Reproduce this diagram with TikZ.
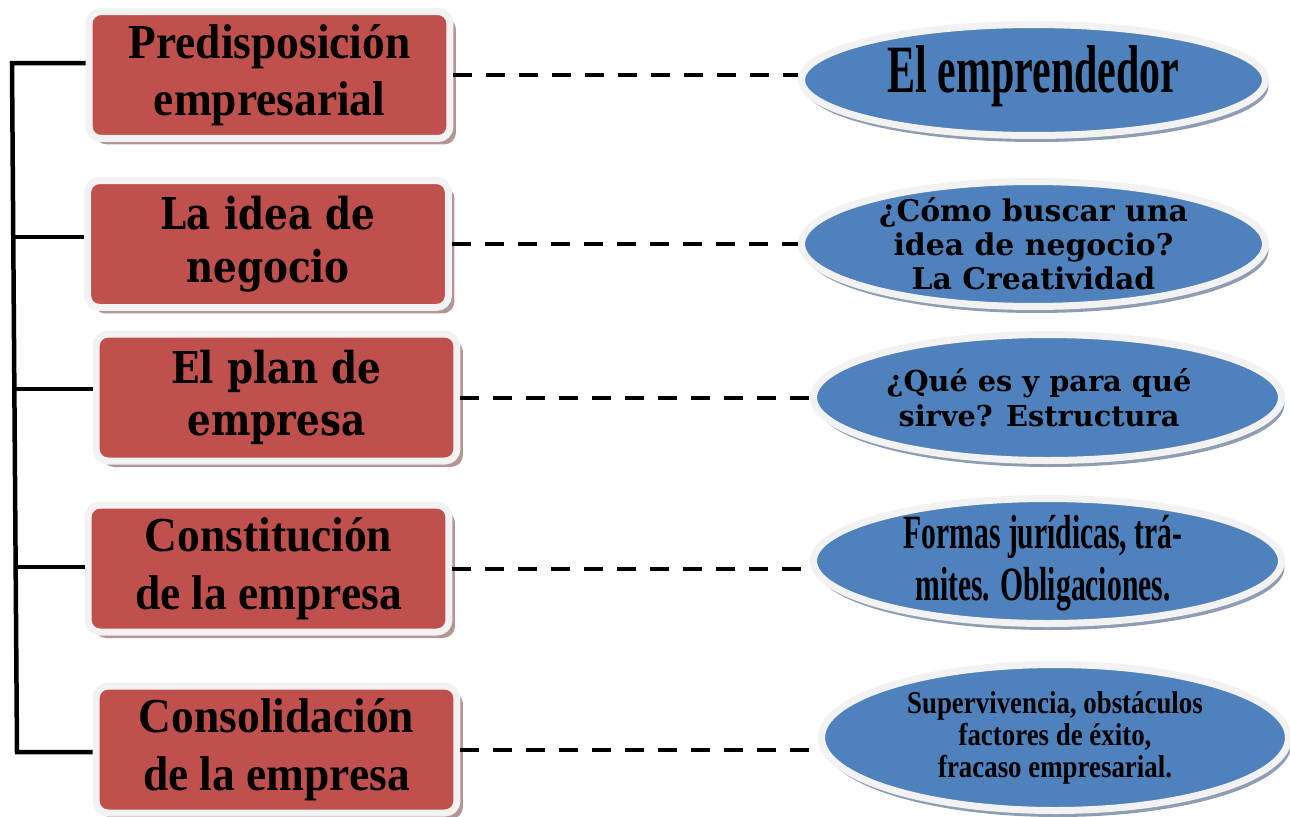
\documentclass[tikz,border=0pt]{standalone}
\usepackage{fontspec}
\setmainfont{Liberation Serif}
\newfontfamily\bookfont{DejaVu Serif}
\newfontfamily\bookcond[FakeStretch=0.85]{DejaVu Serif}
\newfontfamily\timescond[FakeStretch=0.62]{Liberation Serif}
\newfontfamily\timesnarrow[FakeStretch=0.85]{Liberation Serif}
\newfontfamily\timesbox[FakeStretch=0.93]{Liberation Serif}
\usetikzlibrary{shapes.geometric,shadows}

\definecolor{boxred}{HTML}{C0504D}
\definecolor{ovalblue}{HTML}{4F81BD}
\definecolor{rim}{HTML}{F2F2F2}
\definecolor{redshade}{HTML}{B39595}
\definecolor{blueshade}{HTML}{8F9DB3}

\begin{document}
\begin{tikzpicture}[
        x=0.02cm, y=-0.02cm,
        topic/.style={rectangle, rounded corners=0.24cm, fill=boxred, draw=rim, line width=0.14cm, minimum width=7.22cm, minimum height=2.54cm, inner sep=0pt, align=center, drop shadow={shadow xshift=0.12cm, shadow yshift=-0.12cm, fill=redshade, opacity=1}},
        oval/.style={ellipse, fill=ovalblue, draw=rim, line width=0.14cm, inner sep=0pt, drop shadow={shadow xshift=0.06cm, shadow yshift=-0.13cm, fill=blueshade, opacity=1}},
        ovaltext/.style={align=center, inner sep=0pt},
        trunk/.style={line width=0.09cm, line join=miter},
        link/.style={line width=0.08cm, dash pattern=on 0.38cm off 0.28cm}
    ]
        \useasboundingbox (0,0) rectangle (1290,816);

        % Topics (left column)
        \node[topic, font=\timesbox\bfseries\fontsize{27.8}{32.3}\selectfont] (b1) at (269.5,75) {Predisposición\\empresarial};
        \node[topic, font=\bookcond\bfseries\fontsize{25}{30}\selectfont] (b2) at (268,244) {La idea de\\negocio};
        \node[topic, font=\bookcond\bfseries\fontsize{25}{30}\selectfont] (b3) at (276.5,397.5) {El plan de\\empresa};
        \node[topic, font=\timesbox\bfseries\fontsize{27.8}{32.8}\selectfont] (b4) at (268.5,568.5) {Constitución\\de la empresa};
        \node[topic, font=\timesbox\bfseries\fontsize{27.8}{32.8}\selectfont] (b5) at (276.5,749.5) {Consolidación\\de la empresa};

        % Contents (right column)
        \node[oval, minimum width=9.28cm, minimum height=2.22cm] (e1) at (1033.5,80) {};
        \node[oval, minimum width=9.28cm, minimum height=2.5cm] (e2) at (1033.5,244) {};
        \node[oval, minimum width=9.36cm, minimum height=2.52cm] (e3) at (1047.5,397.5) {};
        \node[oval, minimum width=9.36cm, minimum height=2.5cm] (e4) at (1047.5,561) {};
        \node[oval, minimum width=9.34cm, minimum height=2.92cm] (e5) at (1055,737.5) {};

        \node[ovaltext, font=\timescond\bfseries\fontsize{38.5}{40}\selectfont] (e1t) at (1033.5,76) {El emprendedor};
        \node[ovaltext, font=\bookfont\bfseries\fontsize{17}{19.3}\selectfont] (e2t) at (e2) {¿Cómo buscar una\\idea de negocio?\\La Creatividad};
        \node[ovaltext, font=\bookfont\bfseries\fontsize{16.4}{19.8}\selectfont] (e3t) at (1039,397.5) {¿Qué es y para qué\\sirve? Estructura};
        \node[ovaltext, font=\timescond\bfseries\fontsize{27.2}{29.5}\selectfont] (e4t) at (1043,563) {Formas jurídicas, trá-\\mites. Obligaciones.};
        \node[ovaltext, font=\timesnarrow\bfseries\fontsize{18}{18.2}\selectfont] (e5t) at (e5) {Supervivencia, obstáculos\\factores de éxito,\\fracaso empresarial.};

        % Left trunk
        \coordinate (t1) at (12,63);
        \coordinate (t2) at (13.3,237);
        \coordinate (t3) at (14.5,389);
        \coordinate (t4) at (15.7,567);
        \coordinate (t5) at (17,752);
        \draw[trunk] (t1 -| b1.west) -- (t1) -- (t5) -- (t5 -| b5.west);
        \draw[trunk] (t2) -- (t2 -| b2.west);
        \draw[trunk] (t3) -- (t3 -| b3.west);
        \draw[trunk] (t4) -- (t4 -| b4.west);

        % Dashed links
        \draw[link] (b1.east) -- (b1.east -| e1.west);
        \draw[link] (b2.east) -- (b2.east -| e2.west);
        \draw[link] (b3.east) -- (b3.east -| e3.west);
        \draw[link] (b4.east) -- (b4.east -| e4.west);
        \draw[link] (b5.east) -- (b5.east -| e5.west);
    \end{tikzpicture}
\end{document}
